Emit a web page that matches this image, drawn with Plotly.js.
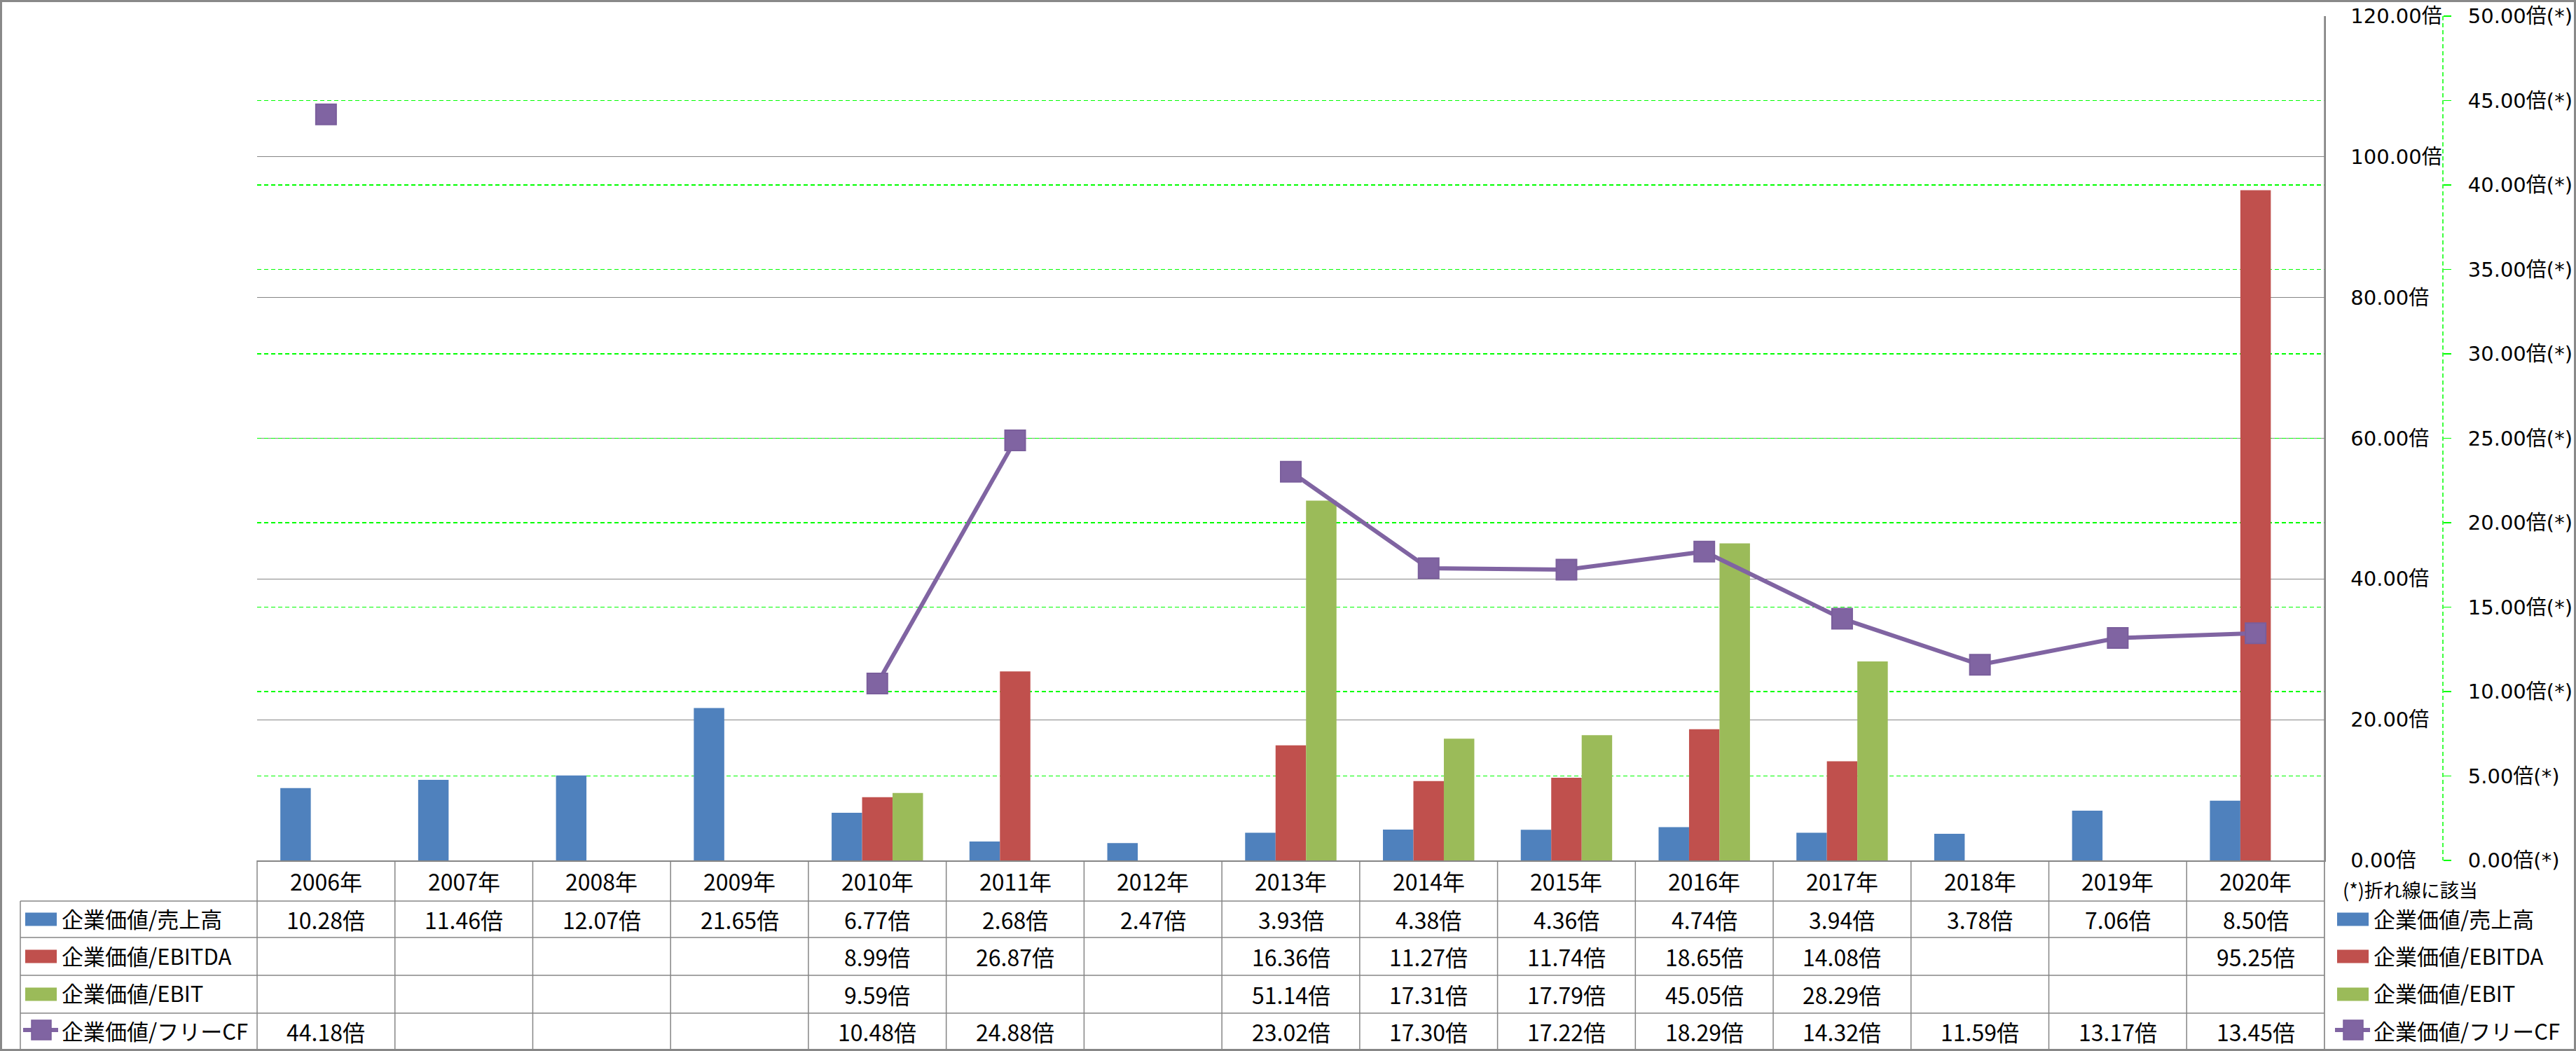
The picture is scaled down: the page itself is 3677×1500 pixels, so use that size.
<!DOCTYPE html>
<html>
<head>
<meta charset="utf-8">
<script src="https://cdn.plot.ly/plotly-3.0.1.min.js"></script>
<style>html,body{margin:0;padding:0;background:#fff;}#chart{width:3677px;height:1500px;}</style>
</head>
<body>
<div id="chart"></div>
<script>
// ---------- data ----------
const categories = ['2006年','2007年','2008年','2009年','2010年','2011年','2012年','2013年','2014年','2015年','2016年','2017年','2018年','2019年','2020年'];
const evSales  = [10.28, 11.46, 12.07, 21.65, 6.77, 2.68, 2.47, 3.93, 4.38, 4.36, 4.74, 3.94, 3.78, 7.06, 8.50];
const evEbitda = [null, null, null, null, 8.99, 26.87, null, 16.36, 11.27, 11.74, 18.65, 14.08, null, null, 95.25];
const evEbit   = [null, null, null, null, 9.59, null, null, 51.14, 17.31, 17.79, 45.05, 28.29, null, null, null];
const evFcf    = [44.18, null, null, null, 10.48, 24.88, null, 23.02, 17.30, 17.22, 18.29, 14.32, 11.59, 13.17, 13.45];
const seriesNames = ['企業価値/売上高', '企業価値/EBITDA', '企業価値/EBIT', '企業価値/フリーCF'];
const valueSuffix = '倍';
const secondarySuffix = '倍(*)';
const noteText = '(*)折れ線に該当';

// ---------- style / layout constants ----------
const W = 3677, H = 1500;
const L = 367, R = 3318, T = 23, B = 1228, PR = 3600; // pixel geometry
const PW = PR - L, PH = B - T;
const px = x => (x - L) / PW;
const py = y => (B - y) / PH;
const colors = ['#4F81BD', '#C0504D', '#9BBB59', '#8064A2'];
const gridGray = '#868686';
const green = 'rgb(0,255,0)';
const cjk = '"Noto Sans CJK JP", "Noto Sans", sans-serif';
const axisFont = '"DejaVu Sans", "Noto Sans CJK JP", sans-serif';
const tableFontSize = 32, legendFontSize = 31;

const barSeries = [evSales, evEbitda, evEbit];
const traces = barSeries.map((vals, i) => ({
  type: 'bar', x: categories, y: vals, name: seriesNames[i],
  marker: {color: colors[i], line: {width: 0}}, yaxis: 'y', hoverinfo: 'skip'
}));
traces.push({
  type: 'scatter', mode: 'lines+markers', x: categories, y: evFcf, name: seriesNames[3],
  yaxis: 'y2', connectgaps: false, hoverinfo: 'skip', cliponaxis: false,
  line: {color: colors[3], width: 6},
  marker: {symbol: 'square', size: 29, color: colors[3], line: {color: '#7a5e9c', width: 2}}
});

// ---------- table & legend (built from data) ----------
const shapes = [];
const annotations = [];
const gl = (x0, y0, x1, y1, xref) => shapes.push({type: 'line', xref: xref || 'paper', yref: 'paper',
  x0: x0, x1: x1, y0: py(y0), y1: py(y1), line: {color: gridGray, width: 1.5}});

// outer border
shapes.push({type: 'rect', xref: 'paper', yref: 'paper', x0: px(1.5), x1: px(W - 1.5), y0: py(1.5), y1: py(H - 1.5),
  line: {color: '#898989', width: 3}, fillcolor: 'rgba(0,0,0,0)'});

const rowLines = [1286, 1338, 1392, 1446, 1498];
const rowCenters = [1312, 1365, 1419, 1472];
rowLines.forEach(y => gl(px(29), y, px(R), y));
gl(px(29), 1286, px(29), 1498);
gl(px(L), 1228, px(L), 1498);
for (let i = 0; i < categories.length; i++) {
  gl(i + 0.5, 1228, i + 0.5, 1498, 'x');
}
gl(px(R), T, px(R), 1498);

// secondary axis dashed line
shapes.push({type: 'line', xref: 'paper', yref: 'paper', x0: px(3487), x1: px(3487), y0: py(T), y1: py(B),
  line: {color: green, width: 1.5, dash: '6px,4px'}});

const ann = (x, y, text, size, xanchor, xref) => annotations.push({
  x: x, y: py(y), xref: xref || 'paper', yref: 'paper', text: text, showarrow: false,
  xanchor: xanchor || 'center', yanchor: 'middle', font: {family: cjk, size: size, color: '#000'}
});

categories.forEach((c, i) => ann(i, 1257, c, tableFontSize, 'center', 'x'));
[evSales, evEbitda, evEbit, evFcf].forEach((vals, r) => {
  vals.forEach((v, i) => { if (v !== null) ann(i, rowCenters[r], v.toFixed(2) + valueSuffix, tableFontSize, 'center', 'x'); });
});

// legends (left in table, right side)
const legendAt = (swX, txtX) => {
  seriesNames.forEach((n, r) => {
    const cy = rowCenters[r];
    if (r < 3) {
      shapes.push({type: 'rect', xref: 'paper', yref: 'paper', x0: px(swX), x1: px(swX + 45),
        y0: py(cy - 9.5), y1: py(cy + 9.5), fillcolor: colors[r], line: {width: 0}});
    } else {
      shapes.push({type: 'line', xref: 'paper', yref: 'paper', x0: px(swX - 3), x1: px(swX + 47),
        y0: py(cy - 2), y1: py(cy - 2), line: {color: colors[3], width: 6}});
      shapes.push({type: 'rect', xref: 'paper', yref: 'paper', x0: px(swX + 9), x1: px(swX + 37),
        y0: py(cy - 16), y1: py(cy + 12), fillcolor: colors[3], line: {color: '#7a5e9c', width: 1.5}});
    }
    ann(px(txtX), cy - 2, n, legendFontSize, 'left');
  });
};
legendAt(36, 86);
legendAt(3336, 3386);
ann(px(3342), 1269, noteText, 27, 'left');

const layout = {
  width: W, height: H,
  margin: {l: L, r: W - PR, t: T, b: H - B, pad: 0},
  paper_bgcolor: '#fff', plot_bgcolor: '#fff',
  showlegend: false,
  barmode: 'group', bargap: 0.337, bargroupgap: 0,
  xaxis: {
    type: 'category', domain: [0, (R - L) / PW], showticklabels: false, ticks: '',
    showgrid: false, zeroline: false, showline: true, linecolor: gridGray, linewidth: 1.5,
    range: [-0.5, categories.length - 0.5], fixedrange: true
  },
  yaxis: {
    side: 'right', range: [0, 120], dtick: 20, tick0: 0, tickformat: '.2f', ticksuffix: valueSuffix,
    showgrid: true, gridcolor: gridGray, gridwidth: 1.2, zeroline: false,
    showline: true, linecolor: gridGray, linewidth: 1.5, ticks: '', ticklabelstandoff: 30,
    tickfont: {family: axisFont, size: 29, color: '#000'}, fixedrange: true
  },
  yaxis2: {
    overlaying: 'y', side: 'right', anchor: 'free', position: px(3487),
    range: [0, 50], dtick: 5, tick0: 0, tickformat: '.2f', ticksuffix: secondarySuffix,
    showgrid: true, gridcolor: green, gridwidth: 1.4, griddash: '6px,4px', zeroline: false,
    showline: false, ticks: 'outside', ticklen: 11, tickwidth: 1.4, tickcolor: green, ticklabelstandoff: 18,
    tickfont: {family: axisFont, size: 29, color: '#000'}, fixedrange: true
  },
  shapes: shapes,
  annotations: annotations
};

Plotly.newPlot('chart', traces, layout, {displayModeBar: false, staticPlot: true});
</script>
</body>
</html>
